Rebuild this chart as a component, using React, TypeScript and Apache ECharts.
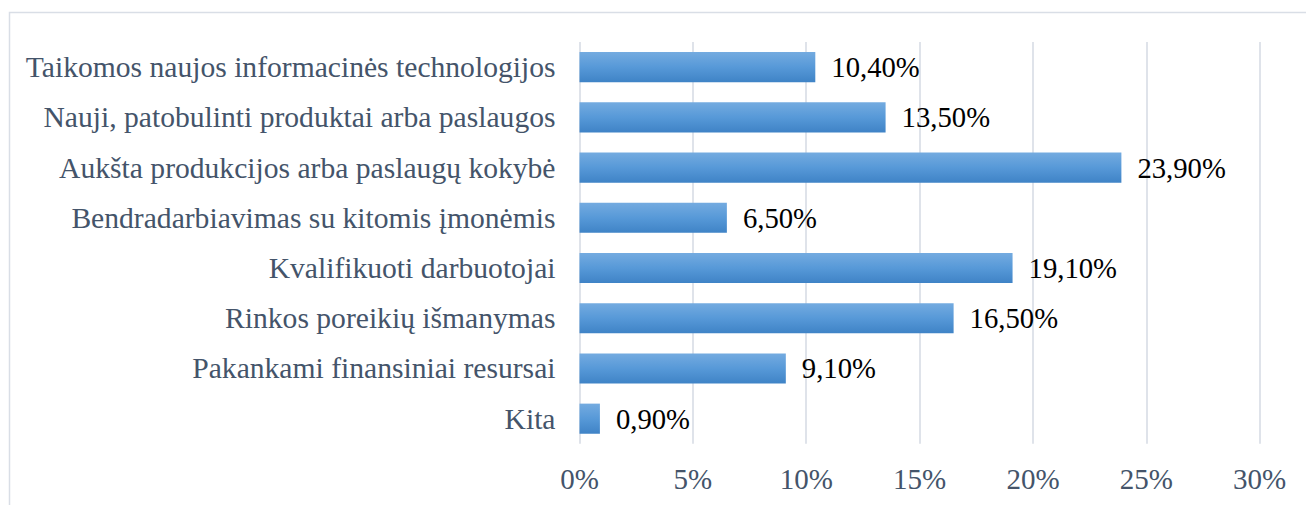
import React, { useEffect, useRef } from "react";
import * as echarts from "echarts";

const categories = [
  "Taikomos naujos informacinės technologijos",
  "Nauji, patobulinti produktai arba paslaugos",
  "Aukšta produkcijos arba paslaugų kokybė",
  "Bendradarbiavimas su kitomis įmonėmis",
  "Kvalifikuoti darbuotojai",
  "Rinkos poreikių išmanymas",
  "Pakankami finansiniai resursai",
  "Kita",
];
const values = [10.4, 13.5, 23.9, 6.5, 19.1, 16.5, 9.1, 0.9];
const axisMin = 0;
const axisMax = 30;
const axisStep = 5;

const FONT = "Liberation Serif";

export default function App() {
  const ref = useRef<HTMLDivElement>(null);
  useEffect(() => {
    if (!ref.current) return;
    const chart = echarts.init(ref.current, null, { renderer: "svg" });
    chart.setOption({
      animation: false,
      backgroundColor: "#ffffff",
      textStyle: { fontFamily: FONT },
      graphic: [
        {
          type: "rect",
          shape: { x: 9.5, y: 12.5, width: 1400, height: 600 },
          style: { fill: "none", stroke: "#d9dee6", lineWidth: 1.5 },
          silent: true,
        },
      ],
      grid: { left: 579.5, right: 46.3, top: 42, bottom: 61.2, containLabel: false },
      xAxis: {
        type: "value",
        min: axisMin,
        max: axisMax,
        interval: axisStep,
        axisLine: { show: false },
        axisTick: { show: false },
        splitLine: { show: true, lineStyle: { color: "#dfe3ea", width: 2 } },
        axisLabel: {
          formatter: "{value}%",
          color: "#44546a",
          fontFamily: FONT,
          fontSize: 29,
          margin: 21,
        },
      },
      yAxis: {
        type: "category",
        inverse: true,
        data: categories,
        axisLine: { show: false },
        axisTick: { show: false },
        splitLine: { show: false },
        axisLabel: {
          color: "#44546a",
          fontFamily: FONT,
          fontSize: 29.6,
          margin: 24,
        },
      },
      series: [
        {
          type: "bar",
          data: values,
          barWidth: "60%",
          itemStyle: {
            color: new echarts.graphic.LinearGradient(0, 0, 0, 1, [
              { offset: 0, color: "#74abe0" },
              { offset: 0.5, color: "#5799d8" },
              { offset: 1, color: "#3f83c6" },
            ]),
          },
          label: {
            show: true,
            position: "right",
            distance: 16,
            color: "#000000",
            fontFamily: FONT,
            fontSize: 28.7,
            formatter: (p: any) => p.value.toFixed(2).replace(".", ",") + "%",
          },
        },
      ],
    });
    return () => chart.dispose();
  }, []);
  return (
    <div
      ref={ref}
      style={{ position: "absolute", left: 0, top: 0, width: 1306, height: 505 }}
    />
  );
}
